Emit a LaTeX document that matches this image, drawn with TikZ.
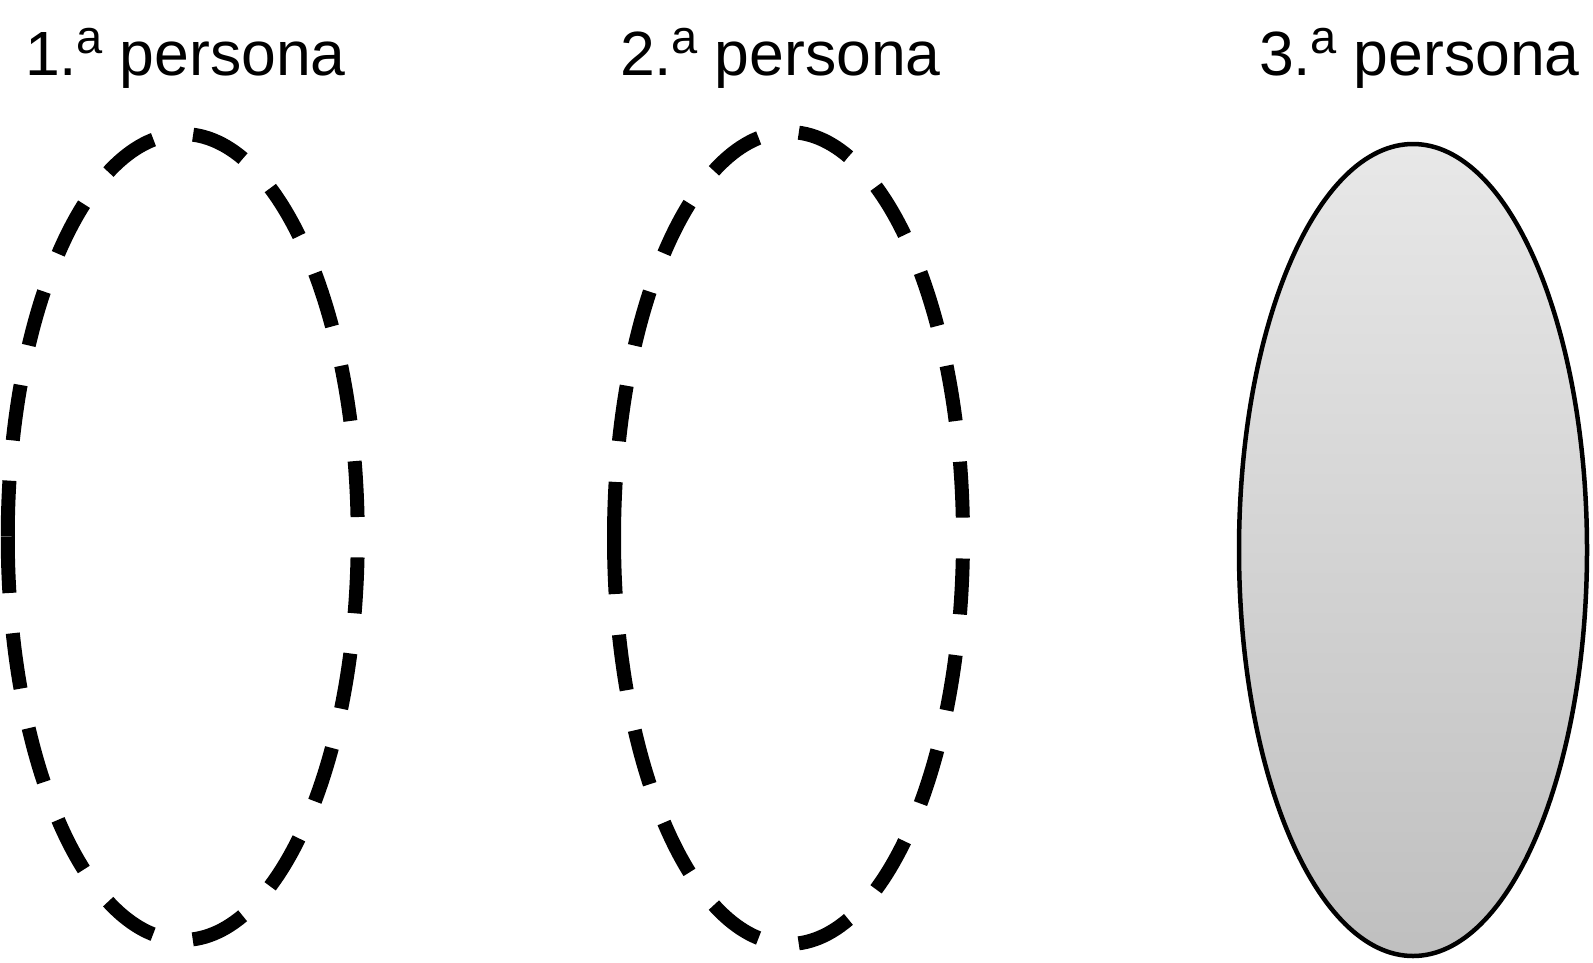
\documentclass[tikz,border=0pt]{standalone}
\usepackage{fontspec}
\setmainfont{Liberation Sans}
\newcommand{\ordA}{\kern-1pt\raisebox{22pt}{\fontsize{47}{50}\selectfont a}}
\begin{document}
\begin{tikzpicture}[x=1pt,y=-1pt,
  lbl/.style={anchor=base west,inner sep=0pt,font=\fontsize{62.5}{70}\selectfont},
  dashedell/.style={line width=14pt},
  solidell/.style={line width=4.5pt,top color=black!9,bottom color=black!25}]
\useasboundingbox (0,0) rectangle (1593,962);
\node[lbl] (t1) at (25,75) {1.\ordA\ persona};
\node[lbl] (t2) at (620,75) {2.\ordA\ persona};
\node[lbl] (t3) at (1259,75) {3.\ordA\ persona};
\coordinate (c1) at (182.75,537);
\coordinate (c2) at (788.5,538);
\coordinate (c3) at (1413,550);
\draw[dashedell,dash pattern=on 56pt off 40.37pt] (c1) ++(-175pt,0) arc[start angle=180,end angle=540,x radius=175pt,y radius=403pt];
\draw[dashedell,dash pattern=on 56pt off 40.9pt] (c2) ++(-174.5pt,0) arc[start angle=180,end angle=540,x radius=174.5pt,y radius=406pt];
\draw[solidell] (c3) ellipse[x radius=174pt,y radius=406pt];
\end{tikzpicture}
\end{document}
